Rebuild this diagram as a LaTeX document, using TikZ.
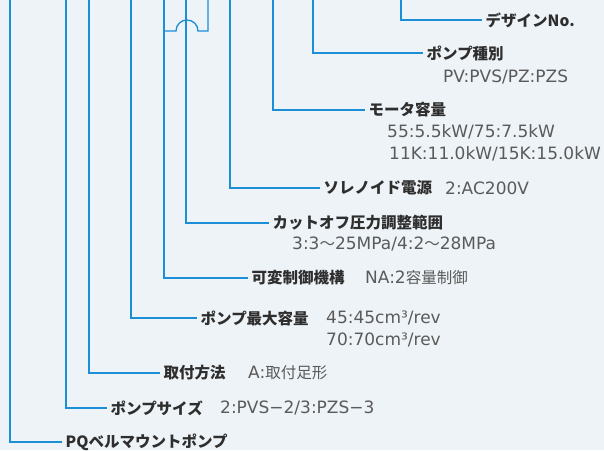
\documentclass[tikz,border=0pt]{standalone}
\usepackage{fontspec}
\setmainfont{Noto Sans CJK JP}
\newfontfamily\lat{DejaVu Sans}
\definecolor{bg}{HTML}{EEF3F7}
\definecolor{ln}{HTML}{1A8FD6}
\definecolor{lab}{HTML}{2E2E2E}
\definecolor{val}{HTML}{5A5A5A}
\newcommand{\latv}[1]{{\lat\fontsize{17}{20}\selectfont #1}}
\tikzset{
  conn/.style={draw=ln, line width=1.3pt},
  lbl/.style={anchor=west, inner xsep=3.5pt, inner ysep=0pt, text=lab, font=\bfseries\fontsize{15.5}{18}\selectfont},
  vallbl/.style={anchor=west, inner sep=0pt, text=val, font=\fontsize{15.5}{18}\selectfont},
}
\begin{document}
\begin{tikzpicture}[x=1pt, y=-1pt]
\useasboundingbox (0,0) rectangle (604,450);
\fill[bg] (0,0) rectangle (604,450);
% labels
\node[lbl] (n1) at (482,20) {デザインNo.};
\node[lbl] (n2) at (423,53) {ポンプ種別};
\node[vallbl] (v2) at (443,77) {\latv{PV:PVS/PZ:PZS}};
\node[lbl] (n3) at (365,110) {モータ容量};
\node[vallbl] (v3a) at (387,132) {\latv{55:5.5kW/75:7.5kW}};
\node[vallbl] (v3b) at (389,154) {\latv{11K:11.0kW/15K:15.0kW}};
\node[lbl] (n4) at (320,188) {ソレノイド電源};
\node[vallbl] (v4) at (445,188) {\latv{2:AC200V}};
\node[lbl] (n5) at (269,223) {カットオフ圧力調整範囲};
\node[vallbl] (v5) at (292,244) {\latv{3:3}〜\latv{25MPa/4:2}〜\latv{28MPa}};
\node[lbl] (n6) at (248,278) {可変制御機構};
\node[vallbl] (v6) at (365,278) {\latv{NA:2}容量制御};
\node[lbl] (n7) at (197,318) {ポンプ最大容量};
\node[vallbl] (v7a) at (326,318) {\latv{45:45cm³/rev}};
\node[vallbl] (v7b) at (326,340) {\latv{70:70cm³/rev}};
\node[lbl] (n8) at (160,373) {取付方法};
\node[vallbl] (v8) at (248,373) {\latv{A:}取付足形};
\node[lbl] (n9) at (107,408) {ポンプサイズ};
\node[vallbl] (v9) at (220,408) {\latv{2:PVS−2/3:PZS−3}};
\node[lbl] (n10) at (62,442) {PQベルマウントポンプ};
% tops
\coordinate (t1) at (401,0);
\coordinate (t2) at (313,0);
\coordinate (t3) at (273,0);
\coordinate (t4) at (230,0);
\coordinate (t5) at (186,0);
\coordinate (t6) at (164,0);
\coordinate (t7) at (131,0);
\coordinate (t8) at (89,0);
\coordinate (t9) at (66,0);
\coordinate (t10) at (10,0);
\foreach \i in {1,...,10} {\draw[conn] (t\i) |- (n\i.west);}
% bracket
\coordinate (b1) at (164,31);
\coordinate (b2) at (176,31);
\coordinate (b3) at (198,31);
\coordinate (b4) at (208,31);
\coordinate (b5) at (208,0);
\draw[conn] (b1) -- (b2) arc[start angle=180, end angle=0, radius=11pt] -- (b4) -- (b5);
\end{tikzpicture}
\end{document}
